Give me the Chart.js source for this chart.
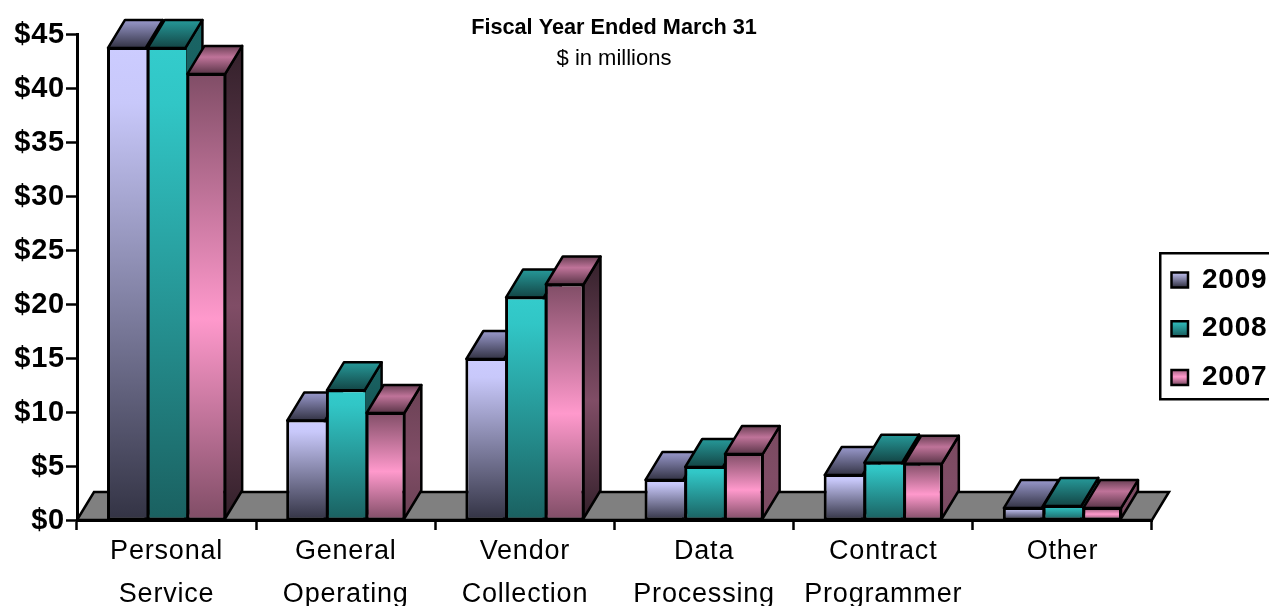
<!DOCTYPE html>
<html><head><meta charset="utf-8">
<style>html,body{margin:0;padding:0;background:#fff;overflow:hidden}#w{width:1269px;height:606px}</style>
<script src="https://cdn.jsdelivr.net/npm/chart.js@4"></script>
</head><body><div id="w"><canvas id="c"></canvas></div>
<script>
const categories = [['Personal','Service'],['General','Operating'],['Vendor','Collection'],['Data','Processing'],['Contract','Programmer'],['Other','']];
const years = ['2009','2008','2007'];
const values2009 = [43.8, 9.3, 15.0, 3.8, 4.25, 1.2];
const values2008 = [43.8, 12.1, 20.7, 5.0, 5.4, 1.4];
const values2007 = [41.4, 10.0, 21.9, 6.2, 5.3, 1.2];
const yearValues = [values2009, values2008, values2007];
const titleLines = ['Fiscal Year Ended March 31', '$ in millions'];

const DX = 17, DY = 28;
function grad(ctx, y0, y1, stops){
  const g = ctx.createLinearGradient(0, y0, 0, y1);
  stops.forEach(s => g.addColorStop(s[0], s[1]));
  return g;
}
function mix(a, b, t){
  const p = c => [1,3,5].map(i => parseInt(c.substr(i,2),16));
  const A = p(a), B = p(b);
  return 'rgb(' + A.map((v,i) => Math.round(v + (B[i]-v)*t)).join(',') + ')';
}
const frontStops = [
  [[0,'#ccccff'],[0.12,'#c8c8fa'],[1,'#333344']],
  [[0,'#33cccc'],[0.12,'#31c6c6'],[1,'#1a6060']],
  [[0,'#804d66'],[0.55,'#ff99cc'],[1,'#804d66']]
];
const topStops = [
  [[0,'#9999cc'],[1,'#333344']],
  [[0,'#269999'],[1,'#134545']],
  [[0,'#6a4055'],[0.4,'#bf7399'],[1,'#5a3548']]
];
function sideStops(i, h){
  const t = Math.min(1, Math.max(0, (h-70)/160));
  if(i===0) return [[0,'#666680'],[1,'#1a1a22']];
  if(i===1) return [[0,'#1a6666'],[1,'#0d3030']];
  const e = mix('#7a4a60', '#33202a', t);
  return [[0,e],[0.55,'#804d66'],[1,e]];
}

const cube3d = {
  id: 'cube3d',
  afterLayout(chart){
    const lg = chart.legend;
    const pad = lg.options.labels.padding;
    lg.left = 1171.5 - pad; lg.right = 1500;
    lg.top = 266 - pad; lg.bottom = 600;
  },
  beforeDraw(chart){
    const ctx = chart.ctx, lg = chart.legend;
    ctx.letterSpacing = '0.8px';
    (lg.legendItems||[]).forEach((it,i) => {
      const y = 270 + i*48.7;
      it.fillStyle = grad(ctx, y, y+17, frontStops[i]);
    });
  },
  beforeDatasetsDraw(chart){
    const ctx = chart.ctx, a = chart.chartArea;
    ctx.save();
    ctx.beginPath();
    ctx.moveTo(a.left, a.bottom);
    ctx.lineTo(a.left+DX, a.bottom-DY);
    ctx.lineTo(a.right+DX, a.bottom-DY);
    ctx.lineTo(a.right, a.bottom);
    ctx.closePath();
    ctx.fillStyle = '#808080'; ctx.fill();
    ctx.strokeStyle = '#000'; ctx.lineWidth = 2.5; ctx.stroke();
    ctx.restore();
    // paint left to right so each bar's front hides its left neighbour's side
    years.forEach((y,i) => {
      const meta = chart.getDatasetMeta(i);
      ctx.save();
      ctx.strokeStyle = '#000'; ctx.lineWidth = 2.5; ctx.lineJoin = 'round';
      meta.data.forEach(bar => {
        const L = bar.x - bar.width/2 + 1, R = bar.x + bar.width/2 - 1, T = bar.y + 1, B = bar.base - 1;
        ctx.beginPath();
        ctx.moveTo(R, T); ctx.lineTo(R+DX, T-DY); ctx.lineTo(R+DX, B-DY); ctx.lineTo(R, B); ctx.closePath();
        ctx.fillStyle = grad(ctx, T-DY, B, sideStops(i, B-T)); ctx.fill(); ctx.stroke();
        ctx.beginPath();
        ctx.moveTo(L, T); ctx.lineTo(L+DX, T-DY); ctx.lineTo(R+DX, T-DY); ctx.lineTo(R, T); ctx.closePath();
        ctx.fillStyle = grad(ctx, T-DY, T, topStops[i]); ctx.fill(); ctx.stroke();
      });
      ctx.restore();
      meta.controller.draw();
    });
    return false;
  },
  afterDraw(chart){
    const ctx = chart.ctx;
    ctx.save();
    ctx.letterSpacing = '0px';
    ctx.strokeStyle = '#000'; ctx.lineWidth = 2.5;
    ctx.strokeRect(1160.25, 253.25, 200, 146);
    ctx.fillStyle = '#000'; ctx.textAlign = 'center'; ctx.textBaseline = 'middle';
    ctx.font = 'bold 21.7px "Liberation Sans", Arial, sans-serif';
    ctx.fillText(titleLines[0], 614, 28);
    ctx.font = '22px "Liberation Sans", Arial, sans-serif';
    ctx.fillText(titleLines[1], 614, 59);
    ctx.restore();
  }
};

new Chart(document.getElementById('c'), {
  type: 'bar',
  data: {
    labels: categories,
    datasets: years.map((y,i) => ({
      label: y,
      data: yearValues[i],
      borderColor: '#000',
      borderWidth: { top: 3, bottom: 2, left: 3, right: i === years.length - 1 ? 3 : 0 },
      borderSkipped: false,
      inflateAmount: 0,
      backgroundColor(ctx){
        const c = ctx.chart;
        if(!c.chartArea || ctx.type !== 'data') return '#888';
        const top = c.scales.y.getPixelForValue(ctx.raw), base = c.scales.y.getPixelForValue(0);
        return grad(c.ctx, top, base, frontStops[i]);
      }
    }))
  },
  plugins: [cube3d],
  options: {
    responsive: true, maintainAspectRatio: false, animation: false,
    devicePixelRatio: 1,
    layout: { padding: { left: 0, top: 34, right: 117, bottom: 0 } },
    datasets: { bar: { categoryPercentage: 0.665, barPercentage: 1 } },
    plugins: {
      title: { display: false },
      tooltip: { enabled: false },
      legend: {
        position: 'chartArea', align: 'start',
        labels: {
          boxWidth: 16.5, boxHeight: 15, padding: 20.7, color: '#000',
          font: { family: '"Liberation Sans", Arial, sans-serif', size: 28, weight: 'bold' },
          generateLabels: chart => years.map((y,i) => ({
            text: y, fillStyle: '#888', strokeStyle: '#000', lineWidth: 2.5,
            datasetIndex: i, hidden: false, fontColor: '#000'
          }))
        }
      }
    },
    scales: {
      x: {
        offset: true,
        grid: { display: true, offset: true, drawOnChartArea: false, drawTicks: true, tickLength: 10, tickWidth: 2.5, tickColor: '#000', color: '#000' },
        border: { display: true, color: '#000', width: 3 },
        ticks: { autoSkip: false, maxRotation: 0, minRotation: 0, color: '#000', padding: 0,
          font: { family: '"Liberation Sans", Arial, sans-serif', size: 27, lineHeight: 1.6 } },
        afterFit(s){ s.height = 86; s.paddingLeft = 0; s.paddingRight = 0; }
      },
      y: {
        min: 0, max: 45,
        grid: { display: true, drawOnChartArea: false, drawTicks: true, tickLength: 11, tickWidth: 2.5, tickColor: '#000', color: '#000' },
        border: { display: true, color: '#000', width: 3 },
        ticks: { stepSize: 5, color: '#000', padding: 1, labelOffset: 1, callback: v => '$' + v,
          font: { family: '"Liberation Sans", Arial, sans-serif', size: 29, weight: 'bold' } },
        afterFit(s){ s.width = 77; s.paddingTop = 0; s.paddingBottom = 0; }
      }
    }
  }
});
</script></body></html>
